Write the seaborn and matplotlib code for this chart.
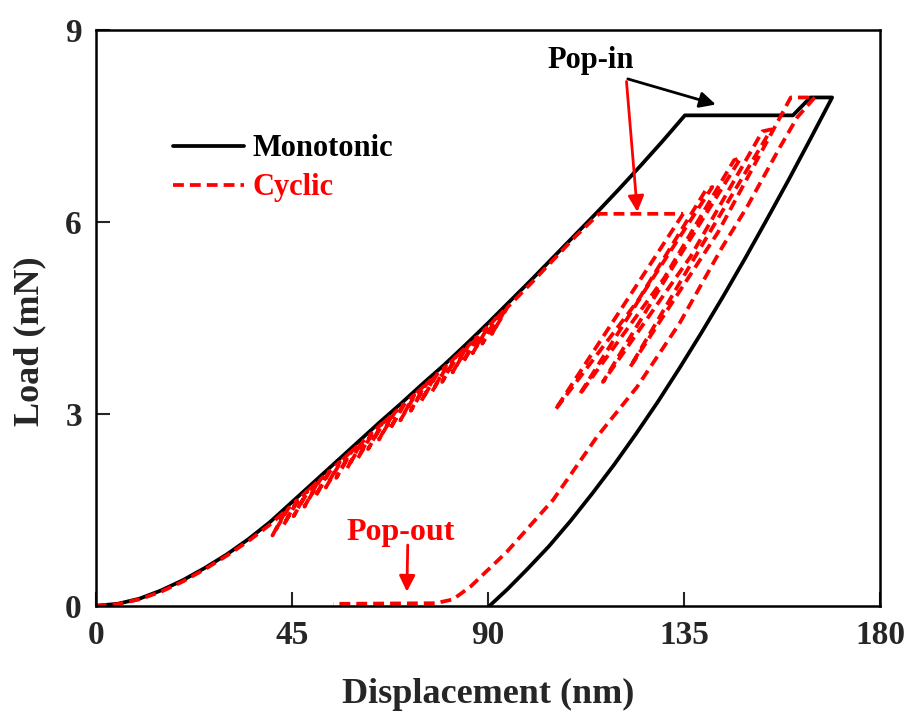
import numpy as np
import pandas as pd
import seaborn as sns
import matplotlib
matplotlib.use("Agg")
import matplotlib.pyplot as plt
from matplotlib.lines import Line2D

# ---------------- data ----------------
mono_x = [0, 5, 10, 15, 20, 25, 30, 35, 40, 45, 50, 55, 60, 65, 70, 75, 80, 85, 90, 95,
          100, 105, 110, 115, 120, 125, 130, 135.2, 160, 164, 169,
          164, 159, 154, 149, 144, 139, 134, 129, 124, 119, 114, 109, 104, 99, 94.5, 90.4]
mono_y = [0, 0.03, 0.11, 0.24, 0.4, 0.59, 0.8, 1.04, 1.31, 1.62, 1.93, 2.24, 2.55, 2.86,
          3.16, 3.47, 3.77, 4.09, 4.42, 4.76, 5.1, 5.45, 5.8, 6.15, 6.51, 6.88, 7.26, 7.67,
          7.67, 7.95, 7.95,
          7.3, 6.66, 6.04, 5.43, 4.84, 4.27, 3.72, 3.19, 2.69, 2.21, 1.76, 1.33, 0.93, 0.57,
          0.26, 0.0]

# cyclic: initial loading with small unload/reload loops, then pop-in
cyc_load_x = [0, 5, 10, 15, 20, 25, 30, 35, 40,
              43.75, 40.55, 44.15, 46.2, 43.0, 46.6, 48.6, 45.4, 49.0,
              51.1, 47.9, 51.5, 53.5, 50.3, 53.9, 56.0, 52.8, 56.4,
              58.4, 55.2, 58.8, 60.9, 57.7, 61.3, 63.3, 60.1, 63.7,
              65.7, 62.5, 66.1, 68.2, 65.0, 68.6, 70.6, 67.4, 71.0,
              73.1, 69.9, 73.5, 75.5, 72.3, 75.9, 77.9, 74.7, 78.3,
              80.4, 77.2, 80.8, 82.7, 79.5, 83.1, 85.1, 81.9, 85.5,
              87.4, 84.2, 87.8, 89.7, 86.5, 90.1, 91.9, 88.7, 92.3,
              94.1, 90.9, 94.5,
              100, 105, 110, 115.5, 134.8]
cyc_load_y = [0, 0.025, 0.1, 0.22, 0.38, 0.57, 0.78, 1.01, 1.27,
              1.5, 1.1, 1.52, 1.65, 1.25, 1.67, 1.8, 1.4, 1.82,
              1.95, 1.55, 1.97, 2.1, 1.7, 2.12, 2.25, 1.85, 2.27,
              2.4, 2.0, 2.42, 2.55, 2.15, 2.57, 2.7, 2.3, 2.72,
              2.85, 2.45, 2.87, 3.0, 2.6, 3.02, 3.15, 2.75, 3.17,
              3.3, 2.9, 3.32, 3.45, 3.05, 3.47, 3.6, 3.2, 3.62,
              3.75, 3.35, 3.77, 3.9, 3.5, 3.92, 4.05, 3.65, 4.07,
              4.2, 3.8, 4.22, 4.35, 3.95, 4.37, 4.5, 4.1, 4.52,
              4.65, 4.25, 4.67,
              5.05, 5.41, 5.77, 6.13, 6.13]

# cyclic: unload/reload cycles after pop-in, then final unload with pop-out
cyc_cycle_x = [134.8, 120, 105.4,
               124.5, 140, 141.5, 126, 111,
               130.5, 146.5, 148, 132, 116.4,
               136.5, 153, 155, 138.7, 122.6,
               142.8, 159.5, 165,
               161, 157, 149.4, 143.7, 134, 124.2, 115, 105, 94.3, 86, 82, 78, 54.5]
cyc_cycle_y = [6.13, 4.58, 3.06,
               4.78, 6.5, 6.55, 4.93, 3.3,
               5.13, 6.97, 7.0, 5.25, 3.5,
               5.46, 7.42, 7.45, 5.59, 3.73,
               5.84, 7.95, 7.95,
               7.64, 7.17, 6.23, 5.6, 4.42, 3.42, 2.64, 1.66, 0.84, 0.3, 0.1, 0.04, 0.03]

x_ticks = [0, 45, 90, 135, 180]
y_ticks = [0, 3, 6, 9]

# ---------------- style ----------------
sns.set_style("white")
plt.rcParams['font.family'] = ['Liberation Serif', 'DejaVu Serif']
plt.rcParams['font.weight'] = 'bold'
plt.rcParams['axes.labelweight'] = 'bold'

fig = plt.figure(figsize=(9.12, 7.22), dpi=100)
ax = fig.add_axes([0.105, 0.161, 0.86, 0.797])

lw = 2.7
dash = (0, (2.9, 1.6))

sns.lineplot(x=mono_x, y=mono_y, sort=False, estimator=None, color='black',
             linewidth=lw, ax=ax)
sns.lineplot(x=cyc_load_x, y=cyc_load_y, sort=False, estimator=None, color='red',
             linewidth=lw, linestyle=dash, ax=ax)
sns.lineplot(x=cyc_cycle_x, y=cyc_cycle_y, sort=False, estimator=None, color='red',
             linewidth=lw, linestyle=dash, ax=ax)

ax.set_xlim(0, 180)
ax.set_ylim(0, 9)
ax.set_xticks(x_ticks)
ax.set_yticks(y_ticks)
ax.set_xticklabels([str(t) for t in x_ticks], fontsize=24, fontweight='bold')
ax.set_yticklabels([str(t) for t in y_ticks], fontsize=24, fontweight='bold')
ax.tick_params(axis='both', direction='in', length=10, width=1.5, bottom=True, left=True,
               top=False, right=False)
ax.tick_params(axis='x', pad=10)
ax.tick_params(axis='y', pad=10)
for s in ax.spines.values():
    s.set_linewidth(1.8)
    s.set_color('black')

ax.set_xlabel('Displacement (nm)', fontsize=26, fontweight='bold')
ax.set_ylabel('Load (mN)', fontsize=26, fontweight='bold')
ax.xaxis.set_label_coords(0.5, -0.125)
ax.yaxis.set_label_coords(-0.063, 0.46)

# legend
handles = [Line2D([], [], color='black', lw=lw),
           Line2D([], [], color='red', lw=lw, linestyle=dash)]
leg = ax.legend(handles, ['Monotonic', 'Cyclic'], loc='center left',
                bbox_to_anchor=(0.098, 0.76), frameon=False,
                handlelength=2.35, handletextpad=0.25, borderpad=0, borderaxespad=0,
                labelspacing=0.33, prop={'weight': 'bold', 'size': 22})
leg.get_texts()[0].set_color('black')
leg.get_texts()[1].set_color('red')

# annotations
ax.text(113.5, 8.53, 'Pop-in', fontsize=22, fontweight='bold', color='black',
        ha='center', va='center')
ax.annotate('', xy=(142.3, 7.84), xytext=(122.1, 8.24),
            arrowprops=dict(arrowstyle='-|>', color='black', lw=2, mutation_scale=24,
                            shrinkA=0, shrinkB=0))
ax.annotate('', xy=(124.3, 6.16), xytext=(121.8, 8.2),
            arrowprops=dict(arrowstyle='-|>', color='red', lw=2, mutation_scale=24,
                            shrinkA=0, shrinkB=0))
ax.text(70.0, 1.14, 'Pop-out', fontsize=23, fontweight='bold', color='red',
        ha='center', va='center')
ax.annotate('', xy=(71.4, 0.22), xytext=(71.6, 0.95),
            arrowprops=dict(arrowstyle='-|>', color='red', lw=2, mutation_scale=24,
                            shrinkA=0, shrinkB=0))

fig.savefig('out.png', dpi=100, facecolor='white')
